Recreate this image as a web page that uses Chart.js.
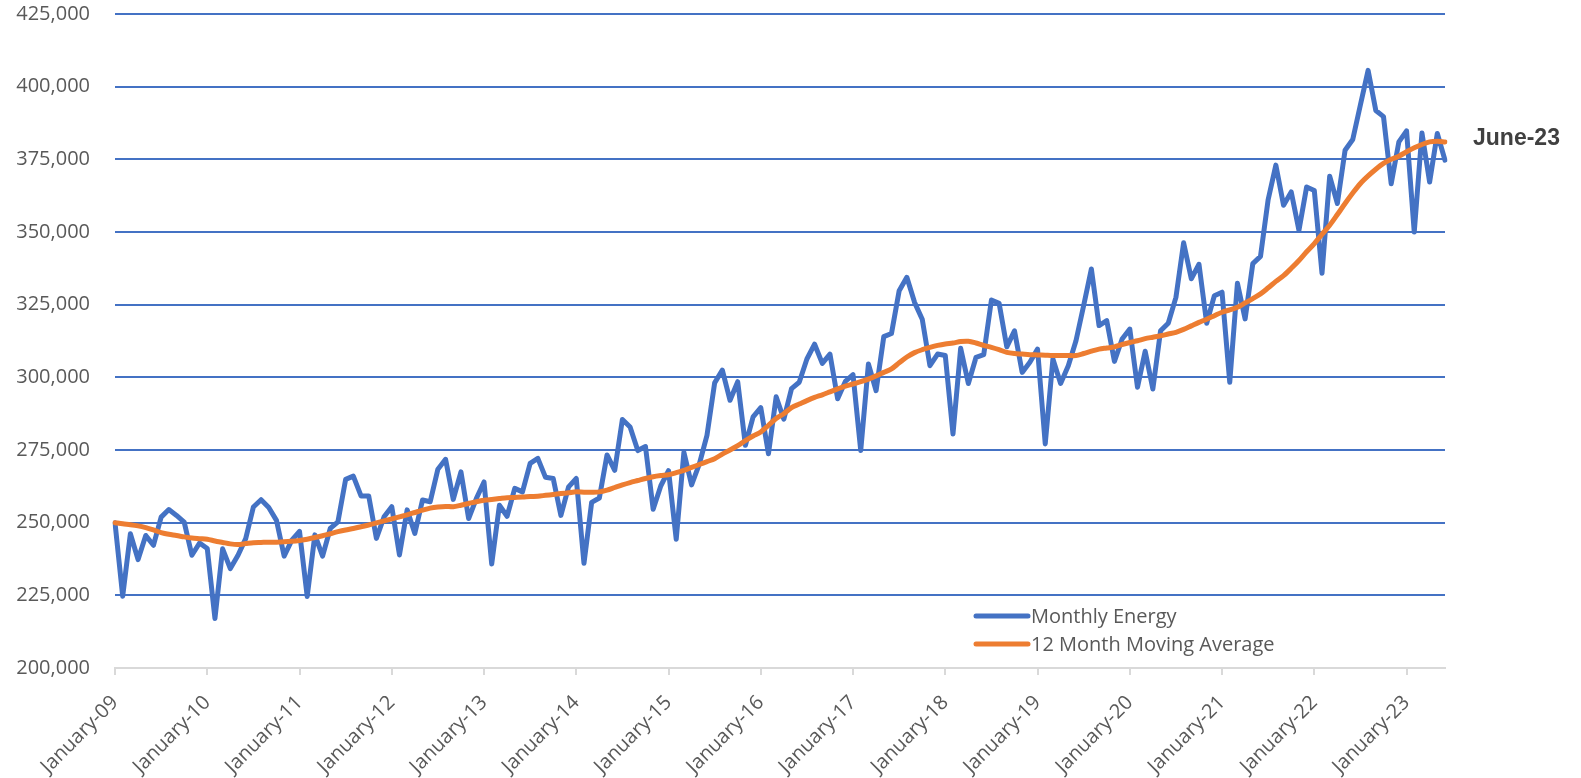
<!DOCTYPE html>
<html>
<head>
<meta charset="utf-8">
<script src="https://cdn.jsdelivr.net/npm/chart.js@4.4.0/dist/chart.umd.min.js"></script>
<style>
  html, body { margin: 0; padding: 0; background: #fff; }
  #wrap { width: 1581px; height: 778px; }
</style>
</head>
<body>
<div id="wrap"><canvas id="chart" width="1581" height="778"></canvas></div>
<script>
const monthNames = ['January', 'February', 'March', 'April', 'May', 'June',
  'July', 'August', 'September', 'October', 'November', 'December'];
const yearSuffixes = ['09', '10', '11', '12', '13', '14', '15', '16', '17', '18', '19', '20', '21', '22', '23'];

// Jan-09 .. Jun-23, one row per year
const monthlyEnergy = [
  250000, 224700, 246200, 237300, 245600, 242200, 251900, 254500, 252500, 250200, 238800, 243000,
  241100, 217000, 241000, 234200, 238800, 244500, 255400, 257900, 255200, 250800, 238500, 244000,
  247000, 224600, 245800, 238500, 248000, 250300, 264900, 266000, 259200, 259200, 244600, 252000,
  255500, 238900, 254400, 246300, 257800, 257200, 268400, 271800, 258000, 267500, 251400, 258300,
  264000, 235800, 256000, 252200, 261800, 260600, 270400, 272100, 265600, 265200, 252500, 262300,
  265200, 236000, 257000, 258500, 273300, 268000, 285500, 282900, 274800, 276200, 254600, 262700,
  267900, 244300, 274200, 263000, 270100, 280000, 298100, 302500, 292100, 298500, 276600, 286400,
  289600, 273700, 293300, 285600, 296100, 298300, 306300, 311400, 304800, 308000, 292600, 298600,
  300900, 274800, 304600, 295400, 314000, 315100, 329800, 334400, 325800, 320000, 304000, 308000,
  307500, 280500, 310000, 297900, 306900, 307800, 326600, 325500, 310500, 316000, 301700, 305200,
  309700, 277100, 306300, 297900, 304000, 312600, 324700, 337300, 317800, 319500, 305500, 313200,
  316600, 296600, 309000, 296000, 316000, 318600, 327500, 346300, 333900, 338900, 318600, 328100,
  329300, 298300, 332400, 320100, 339100, 341600, 361200, 373000, 359200, 363800, 350600, 365500,
  364300, 335800, 369200, 359800, 378100, 381800, 393800, 405600, 391800, 389700, 366600, 381000,
  384800, 350000, 384100, 367200, 383900, 374700
];

const movingAverage = [
  250000, 249600, 249300, 248900, 248300, 247500, 246600, 246000, 245600, 245100, 244700, 244500,
  244300, 243700, 243200, 242700, 242500, 242800, 243100, 243200, 243300, 243300, 243400, 243600,
  243900, 244300, 244900, 245500, 246200, 246900, 247500, 248000, 248600, 249200, 249900, 250600,
  251300, 252000, 252700, 253500, 254300, 255000, 255400, 255600, 255500, 256000, 256600, 257200,
  257700, 258000, 258300, 258600, 258700, 258800, 259000, 259100, 259400, 259700, 260000, 260300,
  260600, 260500, 260500, 260600, 261200, 262100, 263000, 263800, 264500, 265200, 265800, 266200,
  266500, 267200, 268000, 269000, 270000, 271000, 272000, 273600, 275000, 276500, 278200, 279800,
  281200, 283500, 285800, 287500, 289600, 290800, 292000, 293100, 294000, 295000, 296000, 297000,
  297700, 298500, 299400, 300500, 301700, 302900, 305000, 307000, 308500, 309500, 310300, 311000,
  311500, 311800, 312300, 312400, 311800, 311000, 310300, 309500, 308600, 308200, 308000, 307800,
  307700, 307600, 307500, 307500, 307500, 307500, 308200, 309000, 309700, 310100, 310500, 311300,
  312000, 312600, 313300, 313800, 314300, 314900, 315500, 316500, 317700, 318900, 320000, 321200,
  322400, 323200, 324100, 325600, 327100, 328700, 330800, 333000, 335000, 337500, 340200, 343200,
  346000, 349200, 352300, 356000, 359800, 363400, 366700, 369300, 371600, 373600, 375000, 376100,
  377600, 379000, 380100, 381000, 381200, 381000
];

const categories = [];
yearSuffixes.forEach(yy => {
  monthNames.forEach(m => {
    if (categories.length < monthlyEnergy.length) categories.push(m + '-' + yy);
  });
});

const seriesNames = ['Monthly Energy', '12 Month Moving Average'];
const blue = '#4472C4';
const orange = '#ED7D31';
const textGrey = '#595959';
const fontFamily = "'Open Sans', 'Liberation Sans', sans-serif";

// legend sits inside the plot, lower right
const legendBox = {
  id: 'legendBox',
  afterDraw(chart) {
    const ctx = chart.ctx;
    const x0 = 976, y0 = 616, rowH = 28, lineLen = 52;
    ctx.save();
    ctx.font = '20px ' + fontFamily;
    ctx.textBaseline = 'middle';
    [0, 1].forEach(i => {
      const ds = chart.data.datasets[i];
      const y = y0 + i * rowH;
      ctx.strokeStyle = ds.borderColor;
      ctx.lineWidth = 5;
      ctx.lineCap = 'round';
      ctx.beginPath();
      ctx.moveTo(x0, y);
      ctx.lineTo(x0 + lineLen, y);
      ctx.stroke();
      ctx.fillStyle = textGrey;
      ctx.fillText(ds.label, x0 + lineLen + 3, y + 1);
    });
    ctx.restore();
  }
};

// end label beside the last moving average point
const endLabel = {
  id: 'endLabel',
  afterDraw(chart) {
    const ctx = chart.ctx;
    const last = movingAverage.length - 1;
    const y = chart.scales.y.getPixelForValue(movingAverage[last]);
    ctx.save();
    ctx.font = 'bold 23px ' + "'Liberation Sans', Arial, sans-serif";
    ctx.fillStyle = '#404040';
    ctx.textBaseline = 'middle';
    ctx.fillText(categories[last], chart.chartArea.right + 28, y - 3);
    ctx.restore();
  }
};

new Chart(document.getElementById('chart'), {
  type: 'line',
  data: {
    labels: categories,
    datasets: [
      {
        label: seriesNames[0],
        data: monthlyEnergy,
        borderColor: blue,
        borderWidth: 5,
        pointRadius: 0,
        tension: 0,
        borderJoinStyle: 'round',
        borderCapStyle: 'round',
        order: 1
      },
      {
        label: seriesNames[1],
        data: movingAverage,
        borderColor: orange,
        borderWidth: 5,
        pointRadius: 0,
        tension: 0.3,
        borderJoinStyle: 'round',
        borderCapStyle: 'round',
        order: 0
      }
    ]
  },
  options: {
    responsive: false,
    animation: false,
    layout: { padding: { top: 13, right: 136, left: 0, bottom: 0 } },
    plugins: {
      legend: { display: false },
      tooltip: { enabled: false }
    },
    scales: {
      x: {
        offset: false,
        afterFit: s => { s.height = 110; },
        border: { display: true, color: '#d9d9d9', width: 2 },
        grid: {
          drawOnChartArea: false,
          drawTicks: true,
          tickLength: 7,
          color: '#d9d9d9',
          lineWidth: 2
        },
        ticks: {
          autoSkip: false,
          minRotation: 45,
          maxRotation: 45,
          padding: 16,
          color: textGrey,
          font: { family: fontFamily, size: 20 },
          callback: function (v, i) {
            return i % 12 === 0 ? categories[i] : null;
          }
        }
      },
      y: {
        min: 200000,
        max: 425000,
        afterFit: s => { s.width = 115; },
        border: { display: false },
        grid: {
          drawTicks: true,
          tickLength: 23,
          tickColor: 'rgba(0,0,0,0)',
          lineWidth: 2,
          color: c => (c.tick && c.tick.value === 200000 ? 'rgba(0,0,0,0)' : blue)
        },
        ticks: {
          stepSize: 25000,
          padding: 2,
          color: textGrey,
          font: { family: fontFamily, size: 20 },
          callback: v => v.toLocaleString('en-US')
        }
      }
    }
  },
  plugins: [legendBox, endLabel]
});
</script>
</body>
</html>
